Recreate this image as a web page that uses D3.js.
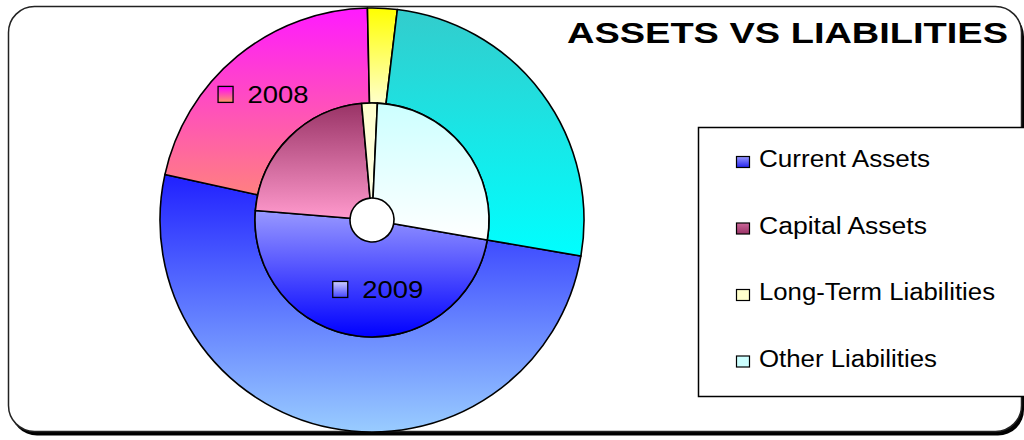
<!DOCTYPE html>
<html>
<head>
<meta charset="utf-8">
<script src="https://cdn.jsdelivr.net/npm/d3@7"></script>
<style>
    html, body { margin: 0; padding: 0; background: #fff; }
    svg { display: block; }
    text { font-family: "Liberation Sans", Arial, sans-serif; }
</style>
</head>
<body>
<div id="chart"></div>
<script>
var categories = ['Current Assets', 'Capital Assets', 'Long-Term Liabilities', 'Other Liabilities'];
var years = ['2008', '2009'];
var values2008 = [50.7, 21.2, 2.25, 25.8];
var values2009 = [48.6, 22.3, 2.15, 27.0];
var chartTitle = 'ASSETS VS LIABILITIES';

// gradient top / bottom colours per slice
var colors2008 = [['#2020ff', '#99ccff'], ['#ff1aff', '#ff8080'], ['#ffff00', '#ffffcc'], ['#33cccc', '#00ffff']];
var colors2009 = [['#9999ff', '#0000ff'], ['#993366', '#ff99cc'], ['#ffffcc', '#ffffe6'], ['#ccffff', '#ffffff']];
var legendColors = [['#9999ff', '#2222ee'], ['#cc6699', '#993366'], ['#ffffcc', '#ffffcc'], ['#ccffff', '#ccffff']];

var width = 1024, height = 440;
var cx = 372, cy = 220;
var rHole = 22, rMid = 117, rOuter = 212;
var rotation = 99.8 * Math.PI / 180;

var svg = d3.select('#chart').append('svg')
    .attr('width', width)
    .attr('height', height);
var defs = svg.append('defs');

function addGradient(id, pair) {
    var g = defs.append('linearGradient').attr('id', id)
        .attr('x1', 0).attr('y1', 0).attr('x2', 0).attr('y2', 1);
    g.append('stop').attr('offset', '0%').attr('stop-color', pair[0]);
    g.append('stop').attr('offset', '100%').attr('stop-color', pair[1]);
}
colors2008.forEach(function (c, i) { addGradient('g2008_' + i, c); });
colors2009.forEach(function (c, i) { addGradient('g2009_' + i, c); });
legendColors.forEach(function (c, i) { addGradient('gleg_' + i, c); });
addGradient('glab2008', ['#ff00ff', '#ff9966']);
addGradient('glab2009', ['#ccccff', '#4444ff']);

// frame with shadow
svg.append('rect')
    .attr('x', 11).attr('y', 10.5)
    .attr('width', 1013).attr('height', 425)
    .attr('rx', 26).attr('ry', 26)
    .attr('fill', '#000');
svg.append('rect')
    .attr('x', 8.5).attr('y', 6.5)
    .attr('width', 1013).attr('height', 425)
    .attr('rx', 26).attr('ry', 26)
    .attr('fill', '#fff')
    .attr('stroke', '#222')
    .attr('stroke-width', 1.5);

var pie = d3.pie().sort(null)
    .startAngle(rotation)
    .endAngle(rotation + 2 * Math.PI);

var arcOuter = d3.arc().innerRadius(rMid).outerRadius(rOuter);
var arcInner = d3.arc().innerRadius(rHole).outerRadius(rMid);

var plot = svg.append('g').attr('transform', 'translate(' + cx + ',' + cy + ')');

var rings = [
    { year: years[0], data: pie(values2008), arc: arcOuter, grad: 'g2008_', labelIdx: 1, labelGrad: 'glab2008', dx: -50, dy: 10 },
    { year: years[1], data: pie(values2009), arc: arcInner, grad: 'g2009_', labelIdx: 0, labelGrad: 'glab2009', dx: -31, dy: 9 }
];

rings.forEach(function (ring) {
    plot.append('g').attr('class', 'ring')
        .selectAll('path')
        .data(ring.data)
        .enter().append('path')
        .attr('d', ring.arc)
        .attr('fill', function (d, i) { return 'url(#' + ring.grad + i + ')'; })
        .attr('stroke', '#000')
        .attr('stroke-width', 1.6)
        .attr('stroke-linejoin', 'round');
});

// series name labels
rings.forEach(function (ring) {
    var c = ring.arc.centroid(ring.data[ring.labelIdx]);
    var lg = plot.append('g')
        .attr('transform', 'translate(' + (c[0] + ring.dx) + ',' + (c[1] + ring.dy) + ')');
    lg.append('rect')
        .attr('x', 0.5).attr('y', -16.5)
        .attr('width', 15).attr('height', 16)
        .attr('fill', 'url(#' + ring.labelGrad + ')')
        .attr('stroke', '#000')
        .attr('stroke-width', 1.3);
    lg.append('text')
        .attr('x', 30).attr('y', 0)
        .attr('font-size', 24)
        .attr('textLength', 61)
        .attr('lengthAdjust', 'spacingAndGlyphs')
        .attr('fill', '#000')
        .text(ring.year);
});

// title
svg.append('text')
    .attr('x', 567).attr('y', 43)
    .attr('font-size', 29)
    .attr('font-weight', 'bold')
    .attr('textLength', 441)
    .attr('lengthAdjust', 'spacingAndGlyphs')
    .attr('fill', '#000')
    .text(chartTitle);

// legend
var legend = svg.append('g').attr('class', 'legend');
legend.append('rect')
    .attr('x', 698.5).attr('y', 127.5)
    .attr('width', 340).attr('height', 269)
    .attr('fill', '#fff')
    .attr('stroke', '#000')
    .attr('stroke-width', 1.5);

var legendLengths = [171, 168, 236, 178];
var legendItems = legend.selectAll('g.item')
    .data(categories)
    .enter().append('g')
    .attr('class', 'item')
    .attr('transform', function (d, i) { return 'translate(736,' + (167 + i * 66.5) + ')'; });
legendItems.append('rect')
    .attr('x', 0.5).attr('y', -10.5)
    .attr('width', 13).attr('height', 11)
    .attr('fill', function (d, i) { return 'url(#gleg_' + i + ')'; })
    .attr('stroke', '#000')
    .attr('stroke-width', 1.2);
legendItems.append('text')
    .attr('x', 23).attr('y', 0)
    .attr('font-size', 23)
    .attr('textLength', function (d, i) { return legendLengths[i]; })
    .attr('lengthAdjust', 'spacingAndGlyphs')
    .attr('fill', '#000')
    .text(function (d) { return d; });
</script>
</body>
</html>
